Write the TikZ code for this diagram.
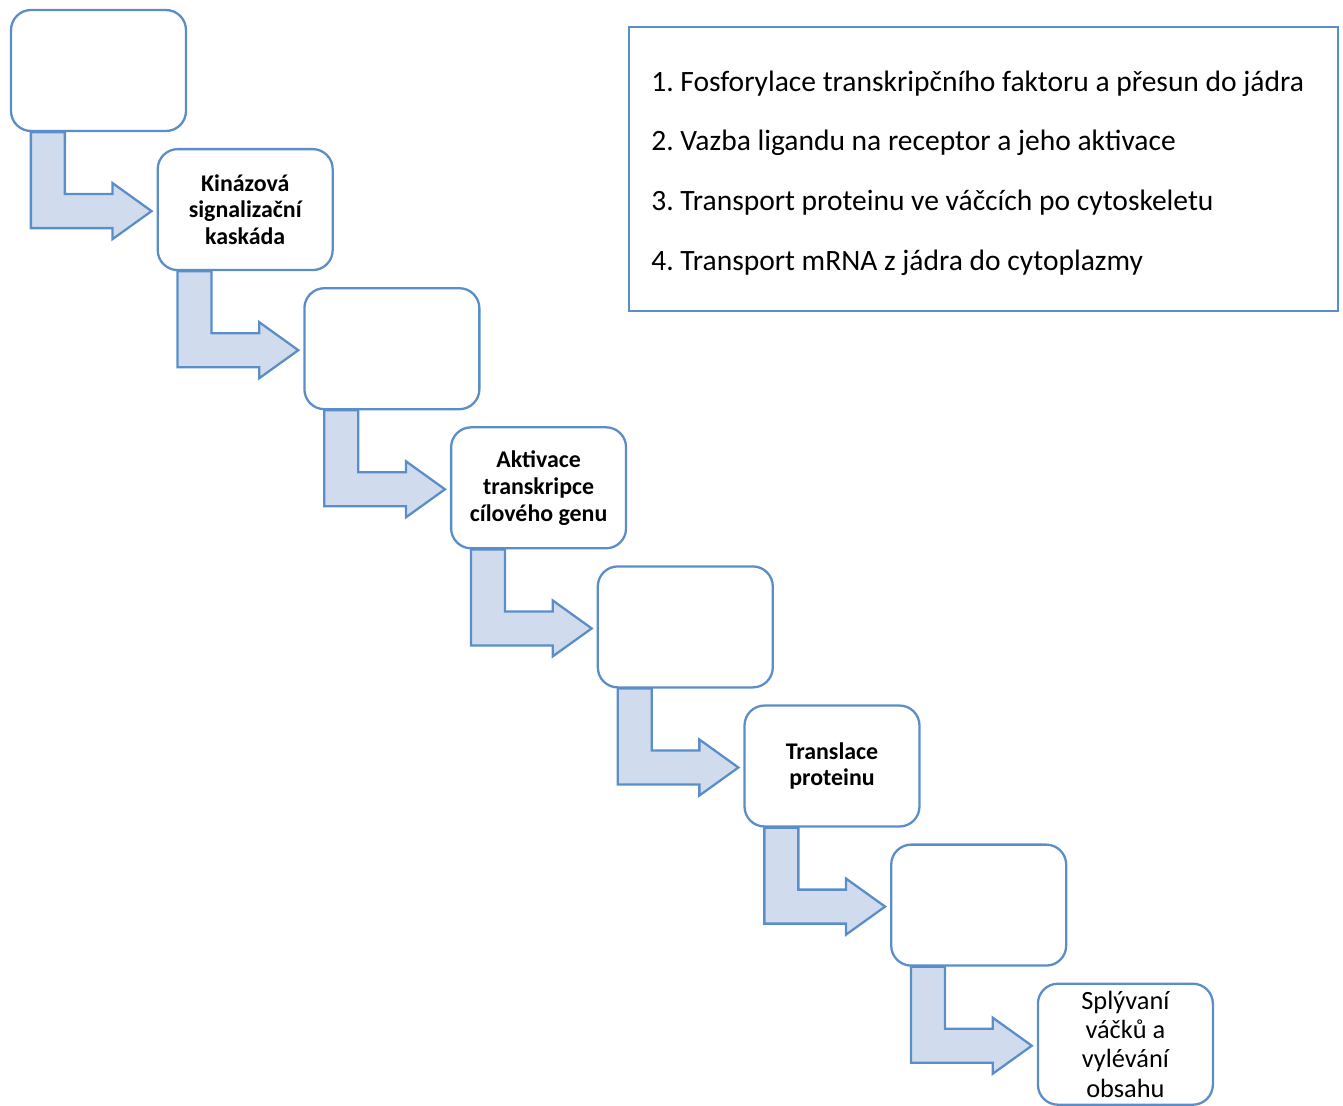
\documentclass[tikz,border=0pt]{standalone}
\usepackage{fontspec}
\setmainfont{Carlito}
\usetikzlibrary{calc}
\definecolor{boxblue}{RGB}{91,142,201}
\definecolor{bendfill}{RGB}{208,220,238}
\frenchspacing

\begin{document}
\begin{tikzpicture}[x=0.02cm, y=0.02cm,
		stepbox/.style={draw=boxblue, fill=white, line width=1.3pt,
			rounded corners=0.4cm, minimum width=3.5cm, minimum height=2.42cm,
			align=center, font=\fontsize{13.6}{15.3}\selectfont\bfseries},
		legendbox/.style={draw=boxblue, line width=1.3pt,
			minimum width=14.18cm, minimum height=5.68cm},
		legendtext/.style={inner sep=0pt, align=left, font=\fontsize{16.8}{34}\selectfont},
		bendarrow/.style={draw=boxblue, fill=bendfill, line width=1.3pt, line join=miter}
		]
		\useasboundingbox (0,0) rectangle (1343,-1106);
		
		% ── Steps ──
		\node[stepbox] (s1) at (98.5,-70.5) {};
		\node[stepbox] (s2) at (245.2,-209.6) {Kinázová\\signalizační\\kaskáda};
		\node[stepbox] (s3) at (391.9,-348.7) {};
		\node[stepbox] (s4) at (538.6,-487.8) {Aktivace\\transkripce\\cílového genu};
		\node[stepbox] (s5) at (685.3,-626.9) {};
		\node[stepbox] (s6) at (832.0,-766.0) {Translace\\proteinu};
		\node[stepbox] (s7) at (978.7,-905.1) {};
		\node[stepbox, font=\fontsize{15}{16.7}\selectfont] (s8) at (1125.4,-1044.2)
			{Splývaní\\váčků a\\vylévání\\obsahu};
		
		% ── Legend ──
		\node[legendbox] (legend) at (983.5,-169) {};
		\node[legendtext, anchor=west] (items) at ($(legend.west)+(23,-4)$)
			{1. Fosforylace transkripčního faktoru a přesun do jádra\\
			2. Vazba ligandu na receptor a jeho aktivace\\
			3. Transport proteinu ve váčcích po cytoskeletu\\
			4. Transport mRNA z jádra do cytoplazmy};
		
		% Bent arrows between steps
		\foreach \a/\b in {s1/s2, s2/s3, s3/s4, s4/s5, s5/s6, s6/s7, s7/s8}
		\draw[bendarrow] ($(\a.south west)+(21,0)$) coordinate (p) -- ++(0,-96)
			-| ($(\b.west)+(-44,-29.5)$) -- ($(\b.west)+(-5,-1.5)$)
			-- ++(-39,28) -- ++(0,-11) -| ($(p)+(34,0)$) -- cycle;
	\end{tikzpicture}
\end{document}
